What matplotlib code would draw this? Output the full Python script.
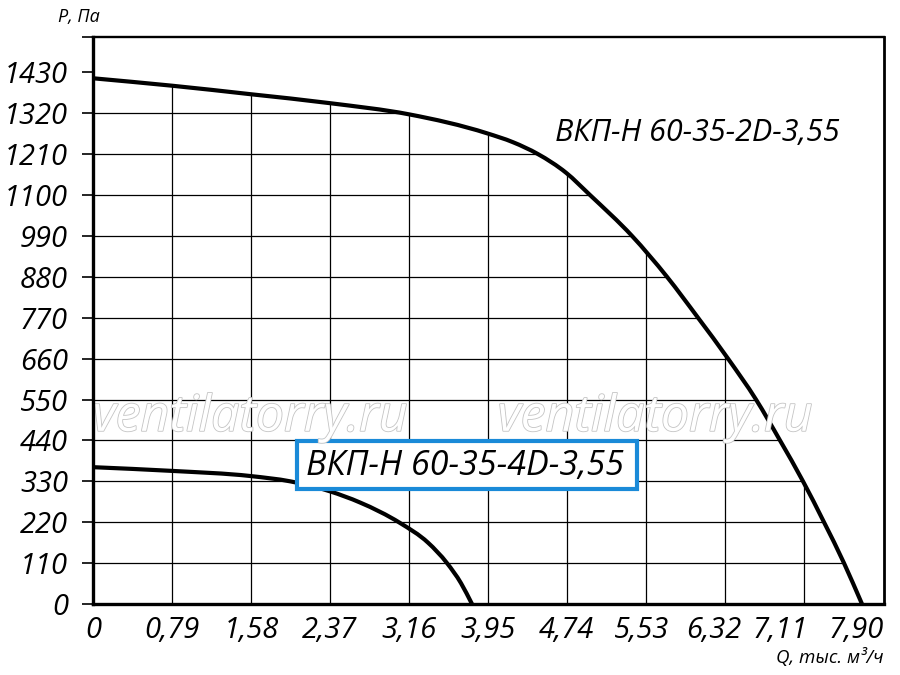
import matplotlib
matplotlib.use("Agg")
import matplotlib.pyplot as plt
import matplotlib.patheffects as pe
import numpy as np
from matplotlib.patches import PathPatch, Rectangle
from matplotlib.path import Path
from matplotlib.transforms import ScaledTranslation

plt.rcParams['font.family'] = ['Open Sans', 'DejaVu Sans']
plt.rcParams['font.style'] = 'italic'

# curve readings (Q thousand m3/h, P Pa)
q_2d = [0, 0.79, 1.58, 2.37, 3.16, 3.94, 4.2, 4.45, 4.73, 4.97, 5.39, 5.74, 6.05, 6.35,
        6.63, 6.87, 7.10, 7.31, 7.51, 7.69]
p_2d = [1414, 1394, 1371, 1347, 1317, 1266, 1242, 1210, 1160, 1100, 990, 880, 770, 660,
        550, 440, 330, 220, 110, 0]

q_4d = [0, 0.79, 1.58, 1.97, 2.37, 2.67, 3.07, 3.35, 3.54, 3.68, 3.79]
p_4d = [368, 358, 344, 330, 303, 273, 218, 165, 110, 56, 0]

x_ticks = [0, 0.79, 1.58, 2.37, 3.16, 3.95, 4.74, 5.53, 6.32, 7.11, 7.90]
x_labels = ['0', '0,79', '1,58', '2,37', '3,16', '3,95', '4,74', '5,53', '6,32', '7,11', '7,90']
y_ticks = [0, 110, 220, 330, 440, 550, 660, 770, 880, 990, 1100, 1210, 1320, 1430]

label_2d = 'ВКП-Н 60-35-2D-3,55'
label_4d = 'ВКП-Н 60-35-4D-3,55'
watermark = 'ventilatorry.ru'

x_max = 7.91
y_max = 1525


def smooth_path(qs, ps, close=False):
    # cubic hermite in Q through the read points, handed to matplotlib as bezier segments
    x = np.asarray(qs, float)
    y = np.asarray(ps, float)
    h = np.diff(x)
    d = np.diff(y) / h
    m = np.empty_like(y)
    m[0] = d[0]
    m[-1] = d[-1]
    m[1:-1] = (h[1:] * d[:-1] + h[:-1] * d[1:]) / (h[:-1] + h[1:])
    verts = [(x[0], y[0])]
    codes = [Path.MOVETO]
    for i in range(len(x) - 1):
        verts += [(x[i] + h[i] / 3, y[i] + m[i] * h[i] / 3),
                  (x[i + 1] - h[i] / 3, y[i + 1] - m[i + 1] * h[i] / 3),
                  (x[i + 1], y[i + 1])]
        codes += [Path.CURVE4] * 3
    if close:
        verts += [(0, 0), (0, 0)]
        codes += [Path.LINETO, Path.CLOSEPOLY]
    return Path(verts, codes)


fig = plt.figure(figsize=(9, 6.75), dpi=100)
ax = fig.add_axes([93 / 900, 71 / 675, 791 / 900, 567 / 675])
ax.set_xlim(0, x_max)
ax.set_ylim(0, y_max)

# grid only under the 2D curve
clip = PathPatch(smooth_path(q_2d, p_2d, close=True), transform=ax.transData,
                 facecolor='none', edgecolor='none')
ax.add_patch(clip)
for y in y_ticks[1:-1]:
    ln = ax.axhline(y, color='black', lw=0.9, zorder=1)
    ln.set_clip_path(clip)
for x in x_ticks[1:-1]:
    ln = ax.axvline(x, color='black', lw=0.9, zorder=1)
    ln.set_clip_path(clip)

ax.add_patch(PathPatch(smooth_path(q_2d, p_2d), facecolor='none', edgecolor='black',
                       lw=3.0, capstyle='butt', zorder=3))
ax.add_patch(PathPatch(smooth_path(q_4d, p_4d), facecolor='none', edgecolor='black',
                       lw=3.0, capstyle='butt', zorder=2))

# watermarks
for xc in [1.57, 5.62]:
    ax.text(xc, 500, watermark, fontsize=36, color='white', ha='center', va='center',
            zorder=4, path_effects=[pe.withStroke(linewidth=1.2, foreground='#c4c4c4')])

ax.text(4.62, 1267, label_2d, fontsize=22, ha='left', va='center', zorder=5)

box = Rectangle((2.04, 309), 3.40, 129, facecolor='white', edgecolor='#1a8ad8',
                lw=3.0, zorder=2.5)
ax.add_patch(box)
ax.text(3.72, 372, label_4d, fontsize=24.5, ha='center', va='center', zorder=5)

# axes frame
ax.spines['left'].set_linewidth(2.4)
ax.spines['bottom'].set_linewidth(2.4)
ax.spines['top'].set_linewidth(1.7)
ax.spines['right'].set_linewidth(2.0)
for s in ax.spines.values():
    s.set_zorder(6)

ax.set_yticks(y_ticks + [y_max], [str(v) for v in y_ticks] + [''])
ax.set_yticks([1430], minor=True)
ax.tick_params(axis='y', which='major', direction='out', length=8, width=1.2,
               labelsize=21, pad=10)
ax.tick_params(axis='y', which='minor', direction='in', length=12, width=1.2)

ax.set_xticks(x_ticks, x_labels)
ax.tick_params(axis='x', length=0, labelsize=21, pad=9)
shifts = [0, 0, 0, 0, 0, 0, -1, -4, -11, -24, -27]
for lab, dx in zip(ax.get_xticklabels(), shifts):
    lab.set_transform(lab.get_transform() + ScaledTranslation(dx / 100, 0, fig.dpi_scale_trans))

fig.text(58 / 900, 1 - 17 / 675, 'P, Па', fontsize=13, ha='left', va='center')
fig.text(884 / 900, 1 - 658 / 675, 'Q, тыс. м³/ч', fontsize=13.5, ha='right', va='center')

fig.savefig('out.png', dpi=100, facecolor='white')
